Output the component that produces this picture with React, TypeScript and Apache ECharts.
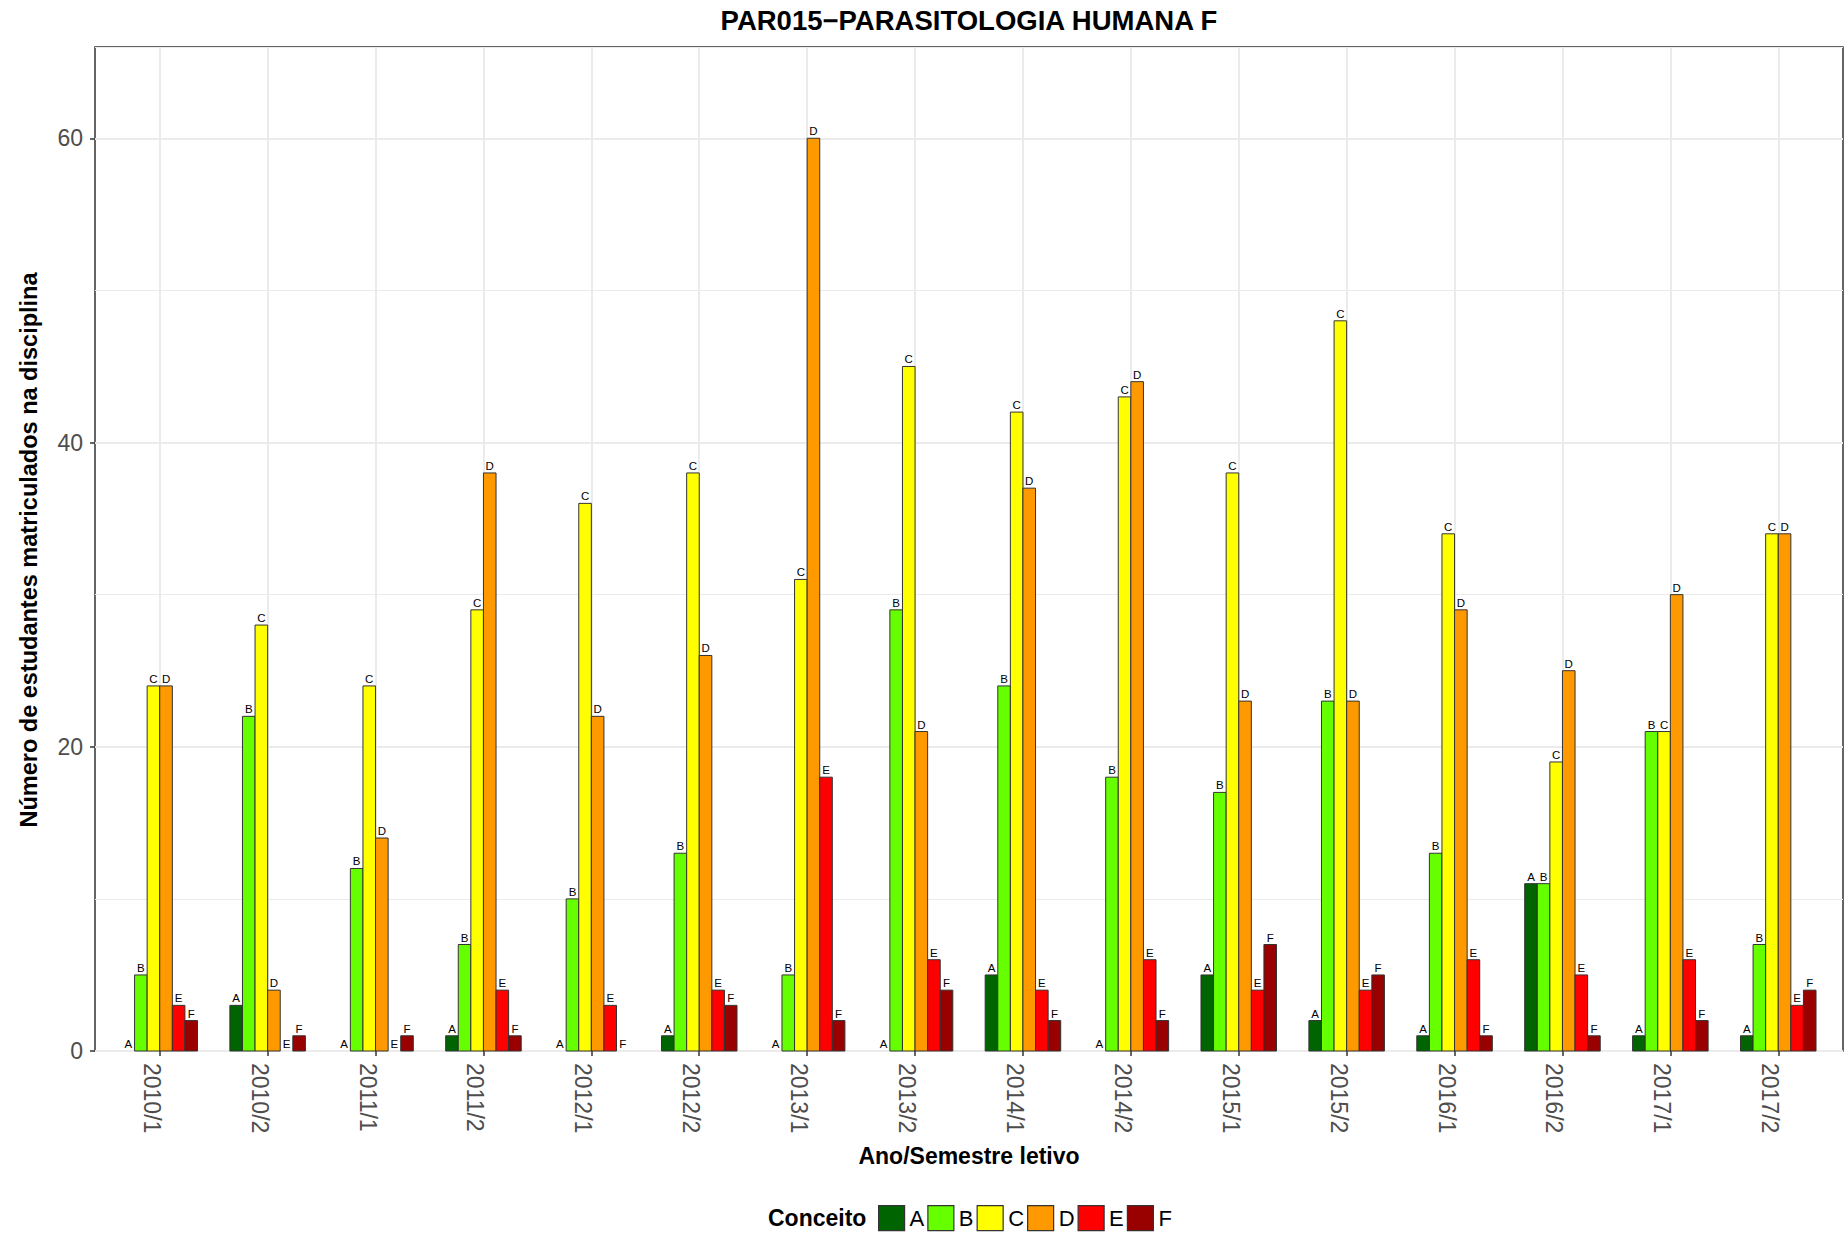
import React, { useEffect, useRef } from "react";
import * as echarts from "echarts";

const FONT = "'Liberation Sans', Arial, Helvetica, sans-serif";

const categories = [
  "2010/1", "2010/2", "2011/1", "2011/2", "2012/1", "2012/2", "2013/1", "2013/2",
  "2014/1", "2014/2", "2015/1", "2015/2", "2016/1", "2016/2", "2017/1", "2017/2",
];
const concepts = ["A", "B", "C", "D", "E", "F"];
const valuesA = [0, 3, 0, 1, 0, 1, 0, 0, 5, 0, 5, 2, 1, 11, 1, 1];
const valuesB = [5, 22, 12, 7, 10, 13, 5, 29, 24, 18, 17, 23, 13, 11, 21, 7];
const valuesC = [24, 28, 24, 29, 36, 38, 31, 45, 42, 43, 38, 48, 34, 19, 21, 34];
const valuesD = [24, 4, 14, 38, 22, 26, 60, 21, 37, 44, 23, 23, 29, 25, 30, 34];
const valuesE = [3, 0, 0, 4, 3, 4, 18, 6, 4, 6, 4, 4, 6, 5, 6, 3];
const valuesF = [2, 1, 1, 1, 0, 3, 2, 4, 2, 2, 7, 5, 1, 1, 2, 4];
const seriesValues = [valuesA, valuesB, valuesC, valuesD, valuesE, valuesF];
const colors = ["#006400", "#66FF00", "#FFFF00", "#FF9900", "#FF0000", "#990000"];
const yTicks = [0, 20, 40, 60];

const GROUP_W = 0.7;
const BAR_W = GROUP_W / concepts.length;

export default function App() {
  const ref = useRef<HTMLDivElement>(null);

  useEffect(() => {
    if (!ref.current) return;
    const chart = echarts.init(ref.current, null, { renderer: "svg" });
    const catIdx = categories.map((_, i) => i);

    const series = concepts.map((name, k) => ({
      type: "custom",
      name,
      xAxisIndex: 0,
      yAxisIndex: 0,
      itemStyle: { color: colors[k] },
      encode: { x: 0, y: 1 },
      data: seriesValues[k].map((v, i) => [i, v]),
      renderItem: (params: any, api: any) => {
        const ci = api.value(0);
        const v = api.value(1);
        const unit = api.size([1, 0])[0];
        const bw = unit * BAR_W;
        const xc = api.coord([ci + (k - (concepts.length - 1) / 2) * BAR_W, 0])[0];
        const base = api.coord([ci, 0])[1];
        const top = api.coord([ci, v])[1];
        const children: any[] = [];
        if (v > 0) {
          children.push({
            type: "rect",
            shape: { x: xc - bw / 2, y: top, width: bw, height: base - top },
            style: { fill: colors[k], stroke: "#333333", lineWidth: 1 },
          });
        }
        children.push({
          type: "text",
          x: xc,
          y: top - 1,
          style: {
            text: name,
            fill: "#000000",
            fontSize: 11.5,
            fontFamily: FONT,
            align: "center",
            verticalAlign: "bottom",
          },
        });
        return { type: "group", children };
      },
    }));

    const option: any = {
      animation: false,
      backgroundColor: "#ffffff",
      grid: {
        left: 95,
        top: 47,
        width: 1748,
        height: 1004,
        show: true,
        borderColor: "#333333",
        borderWidth: 1.5,
        backgroundColor: "transparent",
        containLabel: false,
      },
      xAxis: {
        type: "value",
        min: -0.6,
        max: categories.length - 1 + 0.6,
        axisLine: { show: false, onZero: false },
        axisTick: {
          show: true,
          length: 5,
          customValues: catIdx,
          lineStyle: { color: "#333333", width: 1.5 },
        },
        axisLabel: {
          customValues: catIdx,
          formatter: (v: number) => categories[Math.round(v)] ?? "",
          rotate: -90,
          fontSize: 23,
          color: "#4D4D4D",
          fontFamily: FONT,
          margin: 12,
          verticalAlign: "top",
          lineHeight: 16,
        },
        splitLine: { show: true, lineStyle: { color: "#EBEBEB", width: 2 } },
      },
      yAxis: [
        {
          type: "value",
          min: 0,
          max: 66,
          interval: 20,
          position: "left",
          axisLine: { show: false, onZero: false },
          axisTick: {
            show: true,
            length: 5,
            customValues: yTicks,
            lineStyle: { color: "#333333", width: 1.5 },
          },
          axisLabel: {
            customValues: yTicks,
            fontSize: 23,
            color: "#4D4D4D",
            fontFamily: FONT,
            margin: 12,
          },
          splitLine: { show: true, lineStyle: { color: "#EBEBEB", width: 2 } },
        },
        {
          type: "value",
          min: 0,
          max: 66,
          interval: 10,
          position: "left",
          axisLine: { show: false, onZero: false },
          axisTick: { show: false },
          axisLabel: { show: false },
          splitLine: { show: true, lineStyle: { color: "#EBEBEB", width: 1 } },
        },
      ],
      legend: {
        data: concepts,
        left: 878,
        top: 1205,
        padding: 0,
        icon: "rect",
        itemWidth: 26,
        itemHeight: 25,
        itemGap: 3,
        selectedMode: false,
        itemStyle: { borderColor: "#333333", borderWidth: 1.2 },
        textStyle: { fontSize: 22, color: "#000000", fontFamily: FONT },
      },
      graphic: [
        {
          type: "text",
          x: 969,
          y: 20,
          style: {
            text: "PAR015\u2212PARASITOLOGIA HUMANA F",
            fontSize: 27.5,
            fontWeight: "bold",
            fontFamily: FONT,
            fill: "#000000",
            align: "center",
            verticalAlign: "middle",
          },
        },
        {
          type: "text",
          x: 969,
          y: 1156,
          style: {
            text: "Ano/Semestre letivo",
            fontSize: 23,
            fontWeight: "bold",
            fontFamily: FONT,
            fill: "#000000",
            align: "center",
            verticalAlign: "middle",
          },
        },
        {
          type: "text",
          x: 29,
          y: 550,
          rotation: Math.PI / 2,
          style: {
            text: "Número de estudantes matriculados na disciplina",
            fontSize: 23.5,
            fontWeight: "bold",
            fontFamily: FONT,
            fill: "#000000",
            align: "center",
            verticalAlign: "middle",
          },
        },
        {
          type: "text",
          x: 768,
          y: 1218,
          style: {
            text: "Conceito",
            fontSize: 23,
            fontWeight: "bold",
            fontFamily: FONT,
            fill: "#000000",
            align: "left",
            verticalAlign: "middle",
          },
        },
      ],
      series,
    };

    chart.setOption(option);
    return () => chart.dispose();
  }, []);

  return (
    <div
      ref={ref}
      style={{ position: "absolute", left: 0, top: 0, width: 1848, height: 1234 }}
    />
  );
}
